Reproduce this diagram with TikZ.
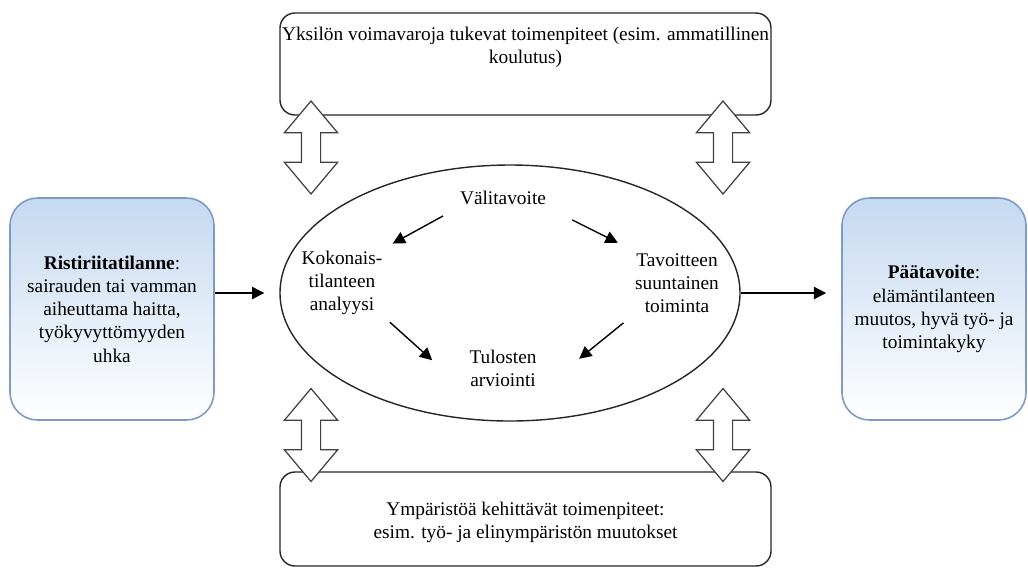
\documentclass[tikz,border=0pt]{standalone}
\usepackage{fontspec}
\setmainfont{Liberation Serif}
\usetikzlibrary{positioning,shapes.geometric,shapes.arrows,arrows.meta}

\definecolor{sideblue}{RGB}{197,217,241}
\definecolor{sideedge}{RGB}{126,154,200}

\begin{document}
\begin{tikzpicture}[
        side_box/.style={rectangle, rounded corners=0.55cm, draw=sideedge, line width=0.9pt, top color=sideblue, bottom color=white, minimum height=4.44cm, align=center, font=\fontsize{11}{13.2}\selectfont},
        action_box/.style={rectangle, rounded corners=0.3cm, draw=black!85, line width=0.8pt, fill=white, minimum width=9.82cm, align=center, font=\fontsize{11}{13.2}\selectfont},
        phase_node/.style={align=center, inner sep=2pt, font=\fontsize{11}{13.2}\selectfont},
        both_ways/.style={double arrow, rotate=90, draw=black!75, fill=white, line width=0.7pt, minimum height=1.86cm, inner xsep=0pt, inner ysep=0.18cm, double arrow head extend=0.34cm, double arrow tip angle=80},
        flow/.style={-{Triangle[length=7pt,width=7pt]}, line width=0.8pt}
        ]
            \useasboundingbox (0,0) rectangle (20.56,-11.36);

            % boxes
            \node[action_box, minimum height=2.04cm] (yksilo)   at (10.51,-1.28)   {};
            \node[phase_node] (yksilo_text) [below = 0.22cm of yksilo.north] {Yksilön voimavaroja tukevat toimenpiteet (esim. ammatillinen\\koulutus)};
            \node[action_box, minimum height=1.88cm] (ymparisto) at (10.51,-10.38) {};
            \node[phase_node] (ymparisto_text) at (10.51,-10.45) {Ympäristöä kehittävät toimenpiteet:\\esim. työ- ja elinympäristön muutokset};
            \node[side_box, minimum width=4.08cm] (ristiriita) at (2.24,-6.18)
                {\textbf{Ristiriitatilanne}:\\sairauden tai vamman\\aiheuttama haitta,\\työkyvyttömyyden\\uhka};
            \node[side_box, minimum width=3.68cm] (paatavoite) at (18.68,-6.18)
                {\textbf{Päätavoite}:\\elämäntilanteen\\muutos, hyvä työ- ja\\toimintakyky};

            % cycle
            \node[ellipse, draw=black!85, line width=0.8pt, minimum width=9.2cm, minimum height=5.12cm, inner sep=0pt] (kehä) at (10.2,-5.86) {};
            \node[phase_node] (vali)  at (10.06,-3.96) {Välitavoite};
            \node[phase_node] (koko)  at (6.84,-5.66)  {Kokonais-\\tilanteen\\analyysi};
            \node[phase_node] (tavo)  at (13.54,-5.66) {Tavoitteen\\suuntainen\\toiminta};
            \node[phase_node] (tulo)  at (10.06,-7.36) {Tulosten\\arviointi};

            % two way arrows
            \node[both_ways] (nuoli_1) at (6.22,-2.95)  {};
            \node[both_ways] (nuoli_2) at (14.46,-2.95) {};
            \node[both_ways] (nuoli_3) at (6.22,-8.70)  {};
            \node[both_ways] (nuoli_4) at (14.46,-8.70) {};

            % Lines
            \draw[flow, shorten <=3mm, shorten >=1.5mm] (vali.south west) -- (koko.north east);
            \draw[flow, shorten <=5mm, shorten >=3mm] (vali.south east) -- (tavo.north west);
            \draw[flow, shorten <=1mm, shorten >=9mm] (koko.south east) -- (tulo.south west);
            \draw[flow, shorten <=2mm, shorten >=10mm] (tavo.south west) -- (tulo.south east);
            % connection
            \draw[flow, shorten >=3mm] (ristiriita.east |- kehä.west) -- (kehä.west);
            \draw[flow, shorten >=3mm] (kehä.east) -- (kehä.east -| paatavoite.west);
        \end{tikzpicture}
\end{document}
